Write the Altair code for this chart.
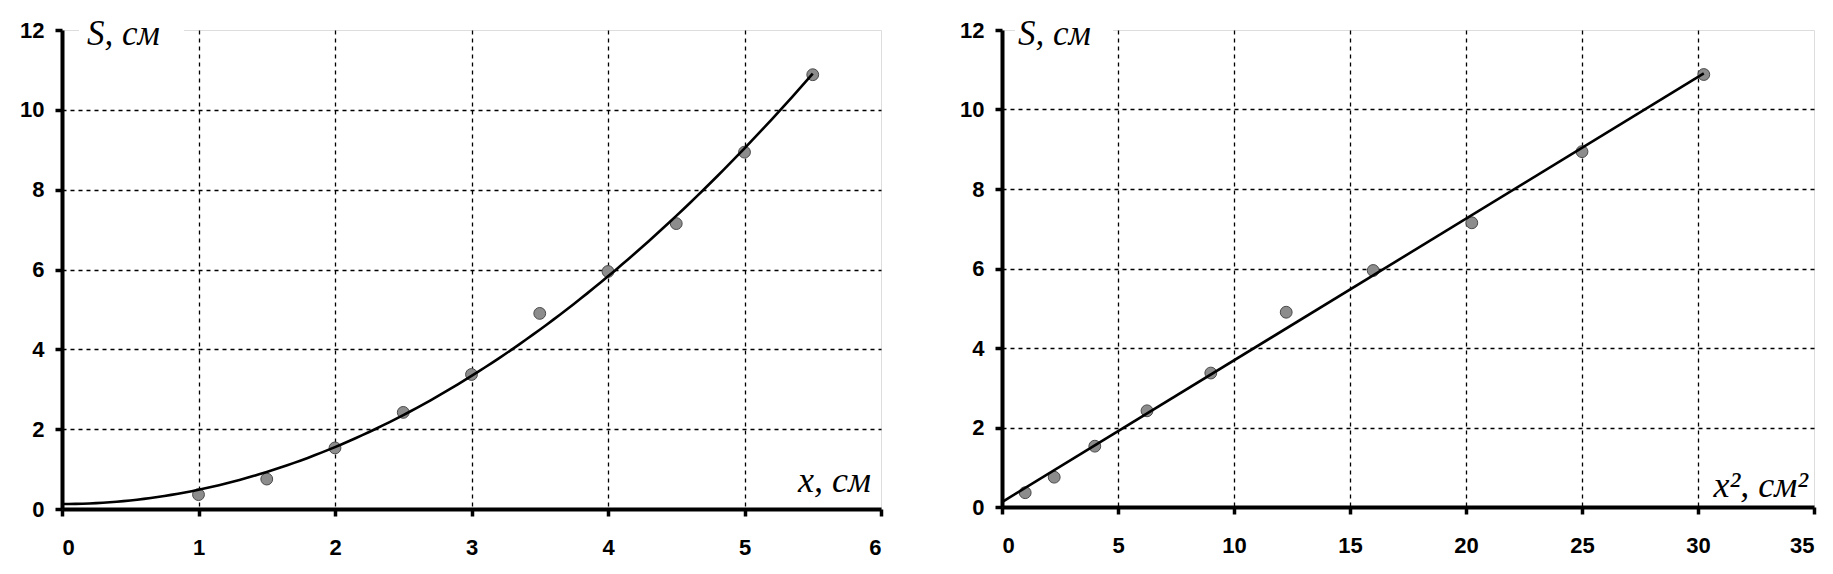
import altair as alt
import pandas as pd

# --- data ---
x_cm = [1.0, 1.5, 2.0, 2.5, 3.0, 3.5, 4.0, 4.5, 5.0, 5.5]
x_sq = [1.0, 2.25, 4.0, 6.25, 9.0, 12.25, 16.0, 20.25, 25.0, 30.25]
s_cm = [0.36, 0.75, 1.53, 2.42, 3.37, 4.9, 5.95, 7.15, 8.94, 10.88]

y_ticks = [0, 2, 4, 6, 8, 10, 12]
x_ticks_left = [0, 1, 2, 3, 4, 5, 6]
x_ticks_right = [0, 5, 10, 15, 20, 25, 30, 35]

y_label = "S, см"
x_label_left = "x, см"
x_label_right = "x², см²"

W1, H1 = 819, 479
W2, H2 = 812, 477

LABEL_FONT = "Liberation Sans"
SERIF = "Liberation Serif"


def axis(values, vmax, **kw):
    return alt.Axis(
        values=values, title=None, format="d",
        domainColor="black", domainWidth=4,
        tickColor="black", tickWidth=3.5, tickSize=7,
        labelFont=LABEL_FONT, labelFontSize=22, labelFontWeight="bold",
        labelColor="black",
        grid=True, gridColor="black", gridDash=[4, 4], gridWidth=1.3,
        gridOpacity={"condition": {"test": f"datum.value <= 0 || datum.value >= {vmax}", "value": 0}, "value": 1},
        **kw,
    )


df_sq = pd.DataFrame({"xsq": x_sq, "S": s_cm})

# left curve: the linear fit of S against x^2, drawn against x
left_fit = (
    alt.Chart(df_sq)
    .transform_regression("xsq", "S", method="linear", params=True)
    .transform_calculate(x=f"sequence(0, {max(x_cm)} + 0.01, 0.05)")
    .transform_flatten(["x"])
    .transform_calculate(S="datum.coef[0] + datum.coef[1] * datum.x * datum.x")
)
right_fit = alt.Chart(df_sq).transform_regression(
    "xsq", "S", method="linear", extent=[0, max(x_sq)]
).transform_calculate(x="datum.xsq")


def panel(xvals, xmax, xticks, xlabel, w, h, fit, bg, sx, sy, xl_off, xl_base):
    df = pd.DataFrame({"x": xvals, "S": s_cm})
    xenc = alt.X("x:Q", scale=alt.Scale(domain=[0, xmax], nice=False, zero=True),
                 axis=axis(xticks, xmax, labelPadding=21))
    yenc = alt.Y("S:Q", scale=alt.Scale(domain=[0, 12], nice=False),
                 axis=axis(y_ticks, 12, labelPadding=11, minExtent=48, maxExtent=48))
    pts = alt.Chart(df).mark_point(filled=True, size=140, fill="#8c8c8c",
                                   stroke="#4a4a4a", strokeWidth=1,
                                   opacity=1).encode(x=xenc, y=yenc)
    line = fit.mark_line(color="black", strokeWidth=2.6).encode(
        x="x:Q", y="S:Q", order="x:Q")
    lab = alt.Chart(pd.DataFrame({"t": [y_label]}))
    rect = lab.mark_rect(fill="white").encode(
        x=alt.value(bg[0]), x2=alt.value(bg[1]),
        y=alt.value(sy - 21), y2=alt.value(sy - 7))
    ytxt = lab.mark_text(font=SERIF, fontStyle="italic", fontSize=35, align="left",
                         baseline="alphabetic", color="black").encode(
        x=alt.value(sx), y=alt.value(sy), text="t:N")
    xtxt = alt.Chart(pd.DataFrame({"t": [xlabel]})).mark_text(
        font=SERIF, fontStyle="italic", fontSize=36, align="right",
        baseline="alphabetic", color="black").encode(
        x=alt.value(w - xl_off), y=alt.value(h - xl_base), text="t:N")
    return alt.layer(pts, line, rect, ytxt, xtxt).properties(width=w, height=h)


left = panel(x_cm, 6, x_ticks_left, x_label_left, W1, H1, left_fit,
             (17, 122), 25, 15, 10, 17)
right = panel(x_sq, 35, x_ticks_right, x_label_right, W2, H2, right_fit,
              (13, 111), 16, 15, 6, 10)

chart = alt.hconcat(left, right, spacing=69).properties(
    padding={"left": 5, "top": 8, "right": 5, "bottom": 2}
).configure_view(stroke="#9a9a9a", strokeWidth=1.5).configure(background="white")

chart.save("out.html", embed_options={"renderer": "svg", "actions": False})
